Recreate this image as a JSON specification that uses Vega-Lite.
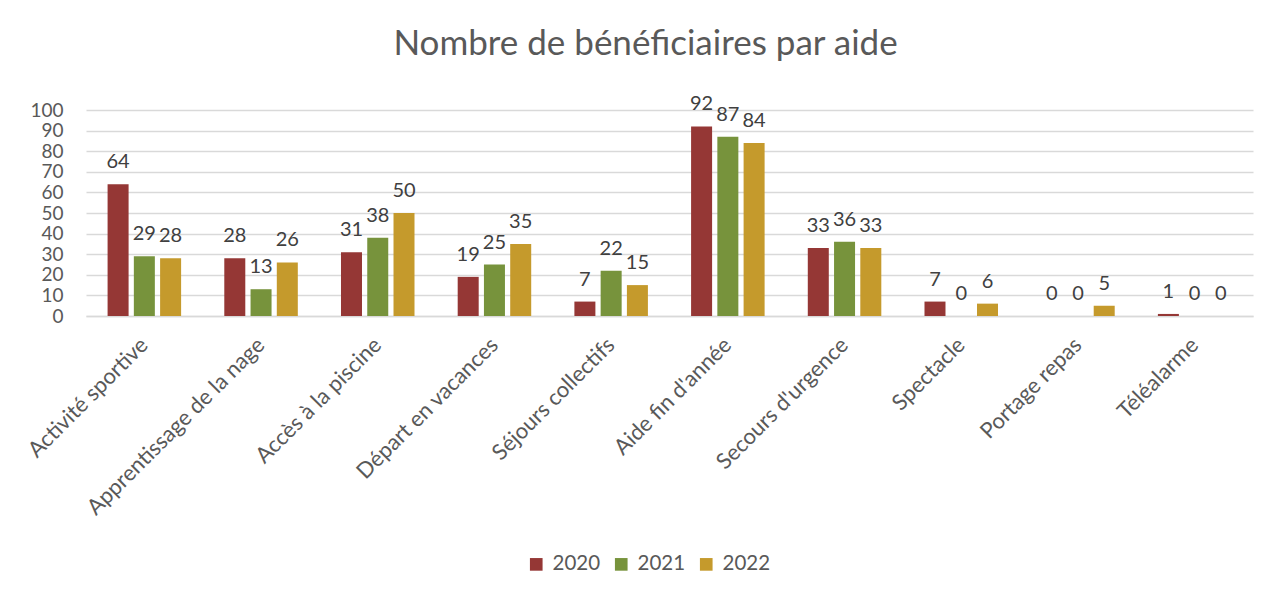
{
  "$schema": "https://vega.github.io/schema/vega-lite/v6.json",
  "autosize": {"type": "none"},
  "width": 1167,
  "height": 206,
  "padding": {"left": 86, "top": 110, "right": 18, "bottom": 278},
  "background": "white",
  "title": {
    "text": "Nombre de bénéficiaires par aide",
    "font": "Lato",
    "fontSize": 35,
    "fontWeight": "normal",
    "color": "#595959",
    "anchor": "middle",
    "dx": -24,
    "offset": 32
  },
  "data": {
    "values": [
      {"aide": "Activité sportive", "annee": "2020", "valeur": 64},
      {"aide": "Activité sportive", "annee": "2021", "valeur": 29},
      {"aide": "Activité sportive", "annee": "2022", "valeur": 28},
      {"aide": "Apprentissage de la nage", "annee": "2020", "valeur": 28},
      {"aide": "Apprentissage de la nage", "annee": "2021", "valeur": 13},
      {"aide": "Apprentissage de la nage", "annee": "2022", "valeur": 26},
      {"aide": "Accès à la piscine", "annee": "2020", "valeur": 31},
      {"aide": "Accès à la piscine", "annee": "2021", "valeur": 38},
      {"aide": "Accès à la piscine", "annee": "2022", "valeur": 50},
      {"aide": "Départ en vacances", "annee": "2020", "valeur": 19},
      {"aide": "Départ en vacances", "annee": "2021", "valeur": 25},
      {"aide": "Départ en vacances", "annee": "2022", "valeur": 35},
      {"aide": "Séjours collectifs", "annee": "2020", "valeur": 7},
      {"aide": "Séjours collectifs", "annee": "2021", "valeur": 22},
      {"aide": "Séjours collectifs", "annee": "2022", "valeur": 15},
      {"aide": "Aide fin d'année", "annee": "2020", "valeur": 92},
      {"aide": "Aide fin d'année", "annee": "2021", "valeur": 87},
      {"aide": "Aide fin d'année", "annee": "2022", "valeur": 84},
      {"aide": "Secours d'urgence", "annee": "2020", "valeur": 33},
      {"aide": "Secours d'urgence", "annee": "2021", "valeur": 36},
      {"aide": "Secours d'urgence", "annee": "2022", "valeur": 33},
      {"aide": "Spectacle", "annee": "2020", "valeur": 7},
      {"aide": "Spectacle", "annee": "2021", "valeur": 0},
      {"aide": "Spectacle", "annee": "2022", "valeur": 6},
      {"aide": "Portage repas", "annee": "2020", "valeur": 0},
      {"aide": "Portage repas", "annee": "2021", "valeur": 0},
      {"aide": "Portage repas", "annee": "2022", "valeur": 5},
      {"aide": "Téléalarme", "annee": "2020", "valeur": 1},
      {"aide": "Téléalarme", "annee": "2021", "valeur": 0},
      {"aide": "Téléalarme", "annee": "2022", "valeur": 0}
    ]
  },
  "encoding": {
    "x": {
      "field": "aide",
      "type": "nominal",
      "sort": null,
      "scale": {"paddingInner": 0.37, "paddingOuter": 0.185},
      "axis": {
        "title": null,
        "labelAngle": -45,
        "labelAlign": "right",
        "labelBaseline": "middle",
        "labelFont": "Lato",
        "labelFontSize": 22,
        "labelColor": "#595959",
        "labelPadding": 25,
        "labelOverlap": false,
        "ticks": false,
        "domainColor": "#D9D9D9",
        "domainWidth": 1.5,
        "labelLimit": 400
      }
    },
    "xOffset": {"field": "annee", "type": "nominal", "scale": {"paddingInner": 0.2, "paddingOuter": 0}},
    "y": {
      "field": "valeur",
      "type": "quantitative",
      "scale": {"domain": [0, 100], "nice": false},
      "axis": {
        "title": null,
        "values": [0, 10, 20, 30, 40, 50, 60, 70, 80, 90, 100],
        "labelFont": "Lato",
        "labelFontSize": 19,
        "labelColor": "#595959",
        "labelPadding": 23,
        "labelOverlap": false,
        "labelBound": false,
        "ticks": false,
        "domain": false,
        "gridColor": "#D9D9D9",
        "gridWidth": 1.5
      }
    }
  },
  "layer": [
    {
      "mark": {"type": "bar"},
      "encoding": {
        "color": {
          "field": "annee",
          "type": "nominal",
          "scale": {"domain": ["2020", "2021", "2022"], "range": ["#953735", "#77933C", "#C59A2C"]},
          "legend": {
            "title": null,
            "orient": "none",
            "direction": "horizontal",
            "legendX": 440,
            "legendY": 444,
            "symbolType": "square",
            "symbolSize": 160,
            "symbolStrokeWidth": 0,
            "labelFont": "Lato",
            "labelFontSize": 20.5,
            "labelColor": "#595959",
            "columnPadding": 10,
            "labelOffset": 6
          }
        }
      }
    },
    {
      "mark": {"type": "text", "baseline": "bottom", "dy": -12, "font": "Lato", "fontSize": 20, "color": "#404040"},
      "encoding": {"text": {"field": "valeur", "type": "quantitative"}}
    }
  ],
  "config": {"view": {"stroke": null}}
}
